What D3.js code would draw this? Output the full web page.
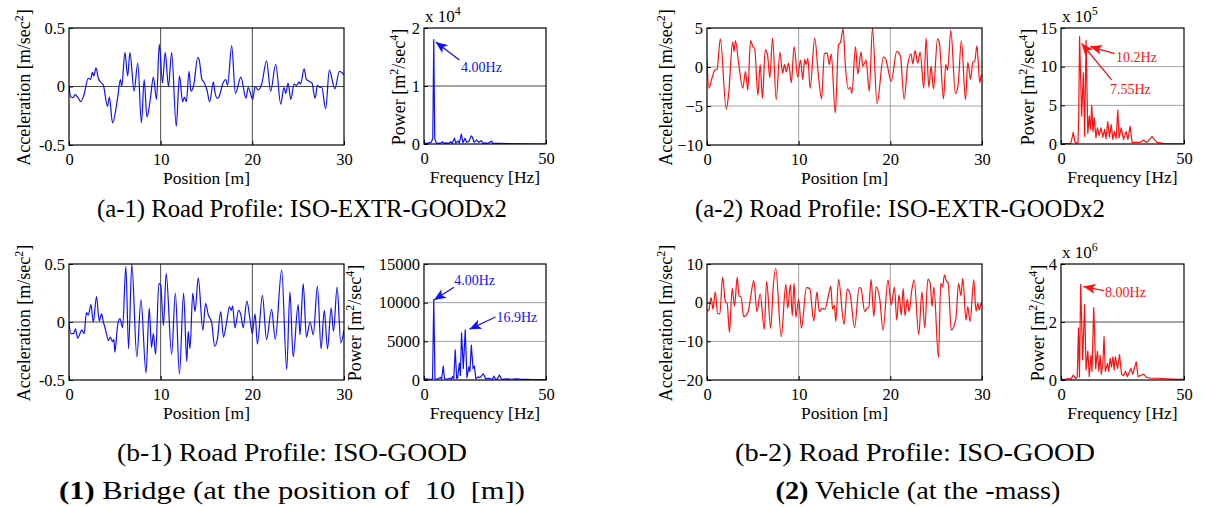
<!DOCTYPE html>
<html>
<head>
<meta charset="utf-8">
<script src="https://cdn.jsdelivr.net/npm/d3@7"></script>
<style>
body { margin: 0; background: #fff; }
svg, text { font-family: "Liberation Serif", "Times New Roman", serif; }
</style>
</head>
<body>
<script>
// acceleration vs position [m] (local peaks and troughs)
var a1Time = [[0,0.01],[0.2,-0.09],[0.45,-0.095],[0.65,-0.07],[1.1,-0.11],[1.25,-0.13],[1.6,-0.08],[2.1,0.07],[2.35,0.06],[2.55,0.12],[2.7,0.09],[2.95,0.16],[3.2,0.07],[3.55,0.03],[3.75,0.01],[4.2,-0.17],[4.4,-0.09],[4.75,-0.31],[5.3,-0.1],[5.6,0.06],[5.75,0],[6.1,0.29],[6.4,0.09],[6.65,0.29],[7.1,-0.04],[7.5,0.2],[7.9,-0.31],[8.2,0.06],[8.5,-0.26],[8.9,-0.09],[9.2,0.08],[9.55,-0.11],[9.85,0.36],[10.2,0.03],[10.5,0.29],[10.85,0],[11.2,0.29],[11.7,-0.34],[12.05,0.09],[12.4,-0.13],[12.6,-0.09],[12.8,-0.13],[13.1,0.13],[13.3,-0.04],[13.6,0.01],[14.05,0.25],[14.2,0.23],[14.5,0.06],[14.7,0.04],[15.05,-0.03],[15.35,-0.13],[15.75,0.04],[15.9,-0.04],[16.15,-0.1],[16.35,-0.09],[16.8,0.03],[17.1,0.06],[17.3,0.01],[17.75,0.35],[18.15,-0.06],[18.75,0.08],[19.3,-0.1],[19.55,-0.01],[20.05,-0.11],[20.3,0],[20.65,-0.03],[21.05,0.03],[21.55,0.22],[22.0,-0.04],[22.55,0.19],[23.1,-0.15],[23.45,-0.01],[23.65,-0.06],[23.9,0.03],[24.2,-0.11],[24.55,0.02],[24.85,0.01],[25.1,0.04],[25.25,0.02],[25.65,0.15],[25.9,0.06],[26.5,0.03],[26.85,-0.1],[27.1,0.01],[27.4,-0.01],[27.55,0],[28.0,-0.19],[28.4,0.14],[29.0,-0.02],[29.5,0.13],[30,0.1]];

var a2Time = [[0,0.9],[0.2,-2.7],[0.55,-1.4],[0.85,-0.4],[1.1,-0.3],[1.45,3.6],[2.1,-5.4],[2.35,-3.6],[2.8,3.2],[2.95,2.0],[3.1,3.4],[3.45,0.5],[3.9,-2.7],[4.2,-0.6],[4.45,-3.0],[4.75,3.4],[5.0,2.6],[5.2,2.4],[5.55,-3.6],[5.8,0.3],[6.05,-4.0],[6.35,2.2],[6.6,1.6],[6.85,-1.4],[7.15,3.7],[7.55,-4.2],[7.95,1.9],[8.25,-0.8],[8.45,0.3],[8.65,-0.6],[8.9,0.5],[9.2,-2.0],[9.5,2.6],[9.9,-1.3],[10.2,0.9],[10.45,-1.6],[10.65,1.0],[10.8,0.3],[11.0,1.1],[11.25,-2.7],[11.75,3.7],[12.15,-1.0],[12.5,-4.1],[12.8,1.7],[13.1,1.8],[13.35,0.3],[13.55,1.7],[14.0,-5.9],[14.35,2.9],[14.55,3.1],[14.85,4.9],[15.1,0.1],[15.4,-2.8],[15.65,-2.6],[15.8,-3.4],[16.2,2.6],[16.45,-0.9],[16.8,1.9],[17.0,0.1],[17.35,0.9],[17.7,-3.1],[18.05,5.0],[18.55,-4.7],[19.25,1.3],[19.5,1.0],[20.1,-1.8],[20.7,2.0],[21.1,1.4],[21.5,-4.1],[21.9,0.3],[22.25,1.7],[22.45,0.4],[22.7,2.1],[23.0,0.5],[23.25,1.9],[23.65,-2.7],[23.9,3.7],[24.2,-2.6],[24.45,0.1],[24.7,-2.8],[25.15,3.6],[25.35,3.1],[25.8,-4.1],[26.05,0.3],[26.25,-0.4],[26.6,4.7],[27.1,-3.4],[27.4,-2.2],[27.75,3.4],[28.2,-4.2],[28.45,0.6],[28.75,-1.6],[29.0,0.6],[29.2,0.7],[29.45,2.7],[29.75,-2.0],[29.9,-1.1],[30,-1.0]];

var b1Time = [[0,0],[0.2,-0.1],[0.5,-0.1],[0.7,-0.06],[0.95,-0.14],[1.4,-0.07],[1.65,-0.1],[1.9,0.08],[2.1,0.06],[2.4,0.15],[2.65,0],[3.0,0.22],[3.3,0.01],[3.55,0.07],[3.75,0],[4.0,-0.07],[4.3,-0.16],[4.5,-0.13],[4.75,-0.17],[4.9,-0.15],[5.0,-0.26],[5.3,-0.03],[5.55,0.03],[5.85,-0.05],[6.2,0.48],[6.5,-0.23],[6.85,0.5],[7.4,-0.3],[7.85,0.19],[8.4,-0.44],[8.75,0.12],[9.0,-0.22],[9.2,-0.1],[9.45,-0.28],[9.8,0.33],[10.0,0.32],[10.3,-0.03],[10.6,0.42],[11.2,-0.28],[11.6,0.25],[12.05,-0.45],[12.5,0.25],[12.85,-0.34],[13.0,-0.08],[13.2,-0.23],[13.5,0.25],[13.75,0.09],[14.1,0.38],[14.6,-0.07],[14.9,0.16],[15.2,0.06],[15.55,0],[15.9,-0.21],[16.2,-0.14],[16.55,0.09],[16.85,-0.13],[17.2,0],[17.5,0.13],[17.7,0.1],[17.85,0.14],[18.1,-0.05],[18.5,0.1],[18.75,0.06],[19.0,-0.05],[19.4,0.18],[19.75,0.02],[20.0,-0.1],[20.3,0.07],[20.55,-0.19],[21.1,0.23],[21.55,-0.15],[22.1,0.11],[22.5,-0.15],[23.2,0.45],[23.75,-0.41],[24.1,0.26],[24.45,-0.3],[25.0,0.15],[25.2,-0.11],[25.55,0.33],[25.9,-0.13],[26.3,0],[26.65,-0.11],[27.1,0.31],[27.5,-0.23],[27.85,0.1],[28.2,-0.23],[28.6,0.12],[28.85,-0.08],[29.25,0.3],[29.65,-0.18],[30,-0.07]];

var b2Time = [[0,-2.1],[0.2,-1.9],[0.45,1.3],[0.65,-1.7],[0.9,2.8],[1.15,-2.8],[1.4,-2.9],[1.7,6.6],[2.0,0.3],[2.2,-0.2],[2.45,-7.7],[2.75,3.7],[3.0,-0.9],[3.3,6.6],[3.5,1.6],[3.7,1.7],[4.0,-3.6],[4.45,-2.6],[4.7,0.4],[5.1,5.7],[5.45,-2.3],[5.8,2.2],[6.25,-6.9],[6.5,5.6],[6.95,-6.6],[7.2,3.3],[7.5,8.9],[8.1,-8.8],[8.6,4.8],[8.8,-1.5],[9.1,4.7],[9.3,-3.4],[9.5,5.0],[9.7,-3.8],[10.0,0.9],[10.3,-6.6],[10.85,3.9],[11.2,3.7],[11.65,-4.7],[12.0,2.8],[12.25,-2.3],[12.55,-1.5],[12.85,-1.7],[13.3,2.4],[13.5,4.3],[13.7,-1.7],[13.9,-0.6],[14.05,-4.9],[14.35,6.0],[14.95,-5.6],[15.3,3.5],[15.6,2.4],[16.1,-6.4],[16.6,3.9],[16.8,3.7],[17.2,-2.3],[17.45,-1.5],[17.65,-1.2],[17.9,6.0],[18.2,-3.6],[18.45,4.1],[18.85,0.9],[19.2,-7.1],[19.75,5.9],[20.1,-0.6],[20.45,4.0],[20.7,-4.5],[20.95,2.0],[21.2,-3.2],[21.4,3.7],[21.6,-3.4],[21.85,0.9],[22.05,-2.3],[22.35,3.4],[22.6,5.9],[23.1,-8.2],[23.45,2.8],[23.75,-6.5],[24.1,6.1],[24.35,5.0],[24.55,-1.0],[24.75,4.1],[25.25,-14.2],[25.5,5.0],[25.7,4.1],[25.9,7.2],[26.15,5.4],[26.3,5.2],[26.65,-7.1],[27.15,-4.1],[27.45,5.0],[27.7,1.8],[27.9,6.3],[28.25,-4.5],[28.45,-1.0],[28.7,-4.9],[29.1,5.9],[29.35,-2.2],[29.55,-0.2],[29.7,-1.9],[29.9,-0.2],[30,-0.5]];

// power spectra vs frequency [Hz], in the units shown on each axis
var a1Psd = [[0,0.02],[1,0.01],[2,0.02],[3,0.03],[3.6,0.1],[4.0,1.8],[4.4,0.1],[5,0.02],[6,0.01],[7,0.02],[7.6,0.04],[8.2,0.01],[9,0.02],[10,0.01],[11,0.04],[11.5,0.01],[12.5,0.1],[13,0.02],[14,0.05],[14.5,0.02],[15.3,0.17],[16,0.02],[16.8,0.1],[17.5,0.03],[18.5,0.05],[19.3,0.14],[19.8,0.12],[20.5,0.03],[21.5,0.07],[22.5,0.03],[23.5,0.06],[24.2,0.01],[25,0.02],[26,0.01],[27.8,0.05],[28.2,0.01],[30,0.01],[35,0.005],[40,0.003],[50,0]];

var a2Psd = [[0,0.05],[2,0.05],[4,0.1],[5.0,1.5],[5.6,0.3],[6.4,0.1],[6.9,0.2],[7.2,3.5],[7.55,13.9],[8.4,3.6],[9.1,9.2],[9.6,1.0],[10.2,13.4],[10.9,1.4],[11.5,3.6],[12.0,1.9],[12.5,5.0],[13.0,1.6],[13.5,3.4],[14.2,0.8],[14.8,2.1],[15.5,1.1],[16.2,2.1],[17.0,0.9],[17.7,1.9],[18.3,0.7],[19.0,2.9],[19.7,0.9],[20.4,2.5],[21.1,0.6],[21.7,1.6],[22.4,0.7],[23.1,4.4],[23.6,0.8],[24.5,2.1],[25.4,0.6],[26.5,1.6],[27.2,0.6],[28.1,2.3],[28.9,0.2],[32,0.2],[33.6,0.5],[35,0.2],[37,1.0],[37.9,0.6],[39,0.2],[42,0.05],[50,0.02]];

var b1Psd = [[0,100],[1,150],[2,80],[3,120],[3.5,150],[4.0,10400],[4.5,150],[5.5,100],[6.8,350],[7.2,100],[7.9,1800],[8.4,200],[9.5,100],[10.7,250],[11.2,100],[11.7,450],[12.2,150],[12.8,3900],[13.4,200],[13.8,300],[14.5,2200],[14.9,600],[15.4,6100],[16.1,1500],[16.9,6500],[17.6,300],[18.4,1700],[18.8,1100],[19.4,4500],[20.1,1500],[20.6,1800],[21.3,150],[22.2,400],[22.9,300],[24.3,800],[25.3,150],[26.5,200],[28.0,100],[28.7,500],[29.3,100],[30.1,150],[30.9,650],[31.8,100],[34,150],[35.5,100],[38,150],[40,80],[42,100],[44,50],[50,50]];

var b2Psd = [[0,0.02],[2,0.02],[3,0.05],[4,0.03],[5.0,0.17],[6.0,0.05],[6.6,0.1],[7.1,1.8],[7.5,0.1],[8.0,3.3],[8.8,0.7],[9.6,2.6],[10.2,0.35],[10.9,1.0],[11.5,0.12],[12.2,0.85],[12.6,0.3],[13.3,2.5],[14.1,0.4],[14.8,1.0],[15.4,0.3],[15.9,0.85],[16.4,0.2],[17.0,0.57],[17.5,1.5],[18.0,0.3],[18.9,0.57],[19.4,0.3],[20.0,0.75],[20.5,0.45],[21.1,0.8],[21.6,0.35],[22.1,0.8],[23.0,0.4],[23.8,0.88],[24.6,0.2],[25.4,0.15],[26.2,0.3],[27.0,0.12],[28.4,0.4],[29.2,0.2],[30.0,0.45],[30.6,0.63],[31.3,0.12],[32.2,0.15],[33.6,0.2],[34.6,0.1],[36.4,0.06],[39,0.06],[43,0.04],[47,0.02],[50,0.02]];

// tick labels
var posTicks = [0, 10, 20, 30];
var freqTicks = [0, 50];
var a1AccTicks = [-0.5, 0, 0.5];
var a2AccTicks = [-10, -5, 0, 5];
var b1AccTicks = [-0.5, 0, 0.5];
var b2AccTicks = [-20, -10, 0, 10];
var a1PowTicks = [0, 1, 2];
var a2PowTicks = [0, 5, 10, 15];
var b1PowTicks = [0, 5000, 10000, 15000];
var b2PowTicks = [0, 2, 4];

// axis labels: plain text and superscripts alternate
var accLabel = ["Acceleration [m/sec", "2", "]"];
var powLabel = ["Power [m", "2", "/sec", "4", "]"];

// peak annotations: [text, head freq, head power, tail freq, tail power, text freq, text power]
var a1Notes = [["4.00Hz", 4.8, 1.76, 14.5, 1.45, 15.2, 1.24]];
var a2Notes = [["10.2Hz", 11.8, 12.6, 21.9, 11.7, 22.4, 10.6],
               ["7.55Hz", 8.4, 13.0, 20.6, 8.3, 19.9, 6.5]];
var b1Notes = [["4.00Hz", 4.1, 10340, 12.3, 12000, 12.4, 12300],
               ["16.9Hz", 18.6, 6560, 29.3, 8150, 29.7, 7440]];
var b2Notes = [["8.00Hz", 9.1, 3.22, 17.6, 3.08, 17.9, 2.87]];

// captions: centre, baseline, fitted width, text parts
var captions = [
  {x: 302, y: 217, w: 410, parts: [["", "(a-1) Road Profile: ISO-EXTR-GOODx2"]]},
  {x: 900, y: 217, w: 410, parts: [["", "(a-2) Road Profile: ISO-EXTR-GOODx2"]]},
  {x: 292, y: 461, w: 350, parts: [["", "(b-1) Road Profile: ISO-GOOD"]]},
  {x: 915, y: 461, w: 360, parts: [["", "(b-2) Road Profile: ISO-GOOD"]]},
  {x: 292, y: 499, w: 466, parts: [["bold", "(1)"], ["", " Bridge (at the position of \u00a010 \u00a0[m])"]]},
  {x: 918, y: 499, w: 285, parts: [["bold", "(2)"], ["", " Vehicle (at the -mass)"]]}
];

var BLUE = "#1010ff", RED = "#ff1010";
var FONT = "Liberation Serif";

var svg = d3.select("body").append("svg")
    .attr("width", 1209)
    .attr("height", 508)
    .attr("font-family", FONT);

var defs = svg.append("defs");
[["arrBlue", BLUE], ["arrRed", RED]].forEach(function(m) {
  defs.append("marker")
      .attr("id", m[0])
      .attr("markerUnits", "userSpaceOnUse")
      .attr("markerWidth", 14).attr("markerHeight", 12)
      .attr("refX", 12).attr("refY", 5)
      .attr("orient", "auto")
    .append("path")
      .attr("d", "M0,0 L12,5 L0,10 L3,5 Z")
      .attr("fill", m[1]);
});

function supText(t, parts, size) {
  parts.forEach(function(p, i) {
    var s = t.append("tspan").text(p);
    if (i % 2 === 1) s.attr("dy", -7).attr("font-size", Math.round(size * 0.68));
    else if (i > 0) s.attr("dy", 7);
  });
}

function panel(o) {
  var g = svg.append("g").attr("transform", "translate(" + o.left + "," + o.top + ")");
  var x = d3.scaleLinear().domain(o.xDomain).range([0, o.w]);
  var y = d3.scaleLinear().domain(o.yDomain).range([o.h, 0]);

  // grid at the inner ticks
  g.selectAll(".gx").data(o.xTicks.slice(1, -1)).enter().append("line")
      .attr("x1", x).attr("x2", x).attr("y1", 0).attr("y2", o.h)
      .attr("stroke", o.grid).attr("stroke-width", 0.9);
  g.selectAll(".gy").data(o.yTicks.slice(1, -1)).enter().append("line")
      .attr("y1", y).attr("y2", y).attr("x1", 0).attr("x2", o.w)
      .attr("stroke", o.grid).attr("stroke-width", 0.9);

  var clipId = "c" + o.left + "_" + o.top;
  g.append("clipPath").attr("id", clipId)
    .append("rect").attr("width", o.w).attr("height", o.h + 1).attr("y", -1);

  var line = d3.line()
      .x(function(d) { return x(d[0]); })
      .y(function(d) { return y(d[1]); })
      .curve(o.smooth ? d3.curveMonotoneX : d3.curveLinear);

  g.append("path")
      .datum(o.data)
      .attr("clip-path", "url(#" + clipId + ")")
      .attr("fill", "none")
      .attr("stroke", o.color)
      .attr("stroke-width", 1.2)
      .attr("stroke-linejoin", "round")
      .attr("d", line);

  g.append("rect")
      .attr("width", o.w).attr("height", o.h)
      .attr("fill", "none").attr("stroke", "#000").attr("stroke-width", 1.2);

  var ax = g.append("g")
      .attr("transform", "translate(0," + o.h + ")")
      .call(d3.axisBottom(x).tickValues(o.xTicks).tickSizeInner(-4).tickSizeOuter(0).tickPadding(8).tickFormat(d3.format("d")));
  var ay = g.append("g")
      .call(d3.axisLeft(y).tickValues(o.yTicks).tickSizeInner(-4).tickSizeOuter(0).tickPadding(4).tickFormat(o.yFormat));
  [ax, ay].forEach(function(a) {
    a.attr("font-family", FONT).attr("font-size", 16.5);
    a.select(".domain").remove();
    a.selectAll("line").attr("stroke", "#000");
    a.selectAll("text").attr("fill", "#000");
  });

  g.append("text")
      .attr("x", o.w / 2).attr("y", o.h + 39)
      .attr("text-anchor", "middle").attr("font-size", 17.5)
      .text(o.xLabel);

  var yl = g.append("text")
      .attr("transform", "translate(" + o.yLabelX + "," + (o.h / 2 + 1) + ") rotate(-90)")
      .attr("text-anchor", "middle").attr("font-size", 18);
  supText(yl, o.yLabel, 18);

  if (o.exp) {
    var ex = g.append("text").attr("x", 1).attr("y", -6).attr("font-size", 17);
    supText(ex, ["x 10", o.exp], 17);
  }

  (o.notes || []).forEach(function(n) {
    g.append("line")
        .attr("x1", x(n[3])).attr("y1", y(n[4]))
        .attr("x2", x(n[1])).attr("y2", y(n[2]))
        .attr("stroke", o.color).attr("stroke-width", 1.3)
        .attr("marker-end", "url(#" + (o.color === BLUE ? "arrBlue" : "arrRed") + ")");
    g.append("text")
        .attr("x", x(n[5])).attr("y", y(n[6]))
        .attr("font-size", 14).attr("fill", o.color)
        .text(n[0]);
  });
}

var accFmt = function(d) { return String(d); };
var intFmt = d3.format("d");

// top row
panel({left: 69, top: 28, w: 275, h: 117, xDomain: [0, 30], yDomain: [-0.5, 0.5],
  xTicks: posTicks, yTicks: a1AccTicks, yFormat: accFmt, data: a1Time, smooth: true,
  color: BLUE, grid: "#333", xLabel: "Position [m]", yLabel: accLabel, yLabelX: -39});
panel({left: 424, top: 28, w: 122, h: 116, xDomain: [0, 50], yDomain: [0, 2],
  xTicks: freqTicks, yTicks: a1PowTicks, yFormat: intFmt, data: a1Psd,
  color: BLUE, grid: "#333", xLabel: "Frequency [Hz]", yLabel: powLabel, yLabelX: -19,
  exp: "4", notes: a1Notes});
panel({left: 707, top: 28, w: 275, h: 117, xDomain: [0, 30], yDomain: [-10, 5],
  xTicks: posTicks, yTicks: a2AccTicks, yFormat: intFmt, data: a2Time, smooth: true,
  color: RED, grid: "#999", xLabel: "Position [m]", yLabel: accLabel, yLabelX: -35});
panel({left: 1061, top: 28, w: 123, h: 116, xDomain: [0, 50], yDomain: [0, 15],
  xTicks: freqTicks, yTicks: a2PowTicks, yFormat: intFmt, data: a2Psd,
  color: RED, grid: "#999", xLabel: "Frequency [Hz]", yLabel: powLabel, yLabelX: -27,
  exp: "5", notes: a2Notes});

// bottom row
panel({left: 69, top: 264, w: 275, h: 116, xDomain: [0, 30], yDomain: [-0.5, 0.5],
  xTicks: posTicks, yTicks: b1AccTicks, yFormat: accFmt, data: b1Time, smooth: true,
  color: BLUE, grid: "#333", xLabel: "Position [m]", yLabel: accLabel, yLabelX: -39});
panel({left: 424, top: 264, w: 122, h: 116, xDomain: [0, 50], yDomain: [0, 15000],
  xTicks: freqTicks, yTicks: b1PowTicks, yFormat: intFmt, data: b1Psd,
  color: BLUE, grid: "#999", xLabel: "Frequency [Hz]", yLabel: powLabel, yLabelX: -63,
  notes: b1Notes});
panel({left: 707, top: 264, w: 275, h: 116, xDomain: [0, 30], yDomain: [-20, 10],
  xTicks: posTicks, yTicks: b2AccTicks, yFormat: intFmt, data: b2Time, smooth: true,
  color: RED, grid: "#999", xLabel: "Position [m]", yLabel: accLabel, yLabelX: -35});
panel({left: 1061, top: 264, w: 123, h: 116, xDomain: [0, 50], yDomain: [0, 4],
  xTicks: freqTicks, yTicks: b2PowTicks, yFormat: intFmt, data: b2Psd,
  color: RED, grid: "#333", xLabel: "Frequency [Hz]", yLabel: powLabel, yLabelX: -17,
  exp: "6", notes: b2Notes});

// captions, fitted to the width they take in the picture
captions.forEach(function(c) {
  var t = svg.append("text")
      .attr("x", c.x - c.w / 2).attr("y", c.y)
      .attr("font-size", 26)
      .attr("textLength", c.w)
      .attr("lengthAdjust", "spacingAndGlyphs")
      .style("white-space", "pre");
  c.parts.forEach(function(p) {
    t.append("tspan").attr("font-weight", p[0] === "bold" ? "bold" : null).text(p[1]);
  });
});
</script>
</body>
</html>
